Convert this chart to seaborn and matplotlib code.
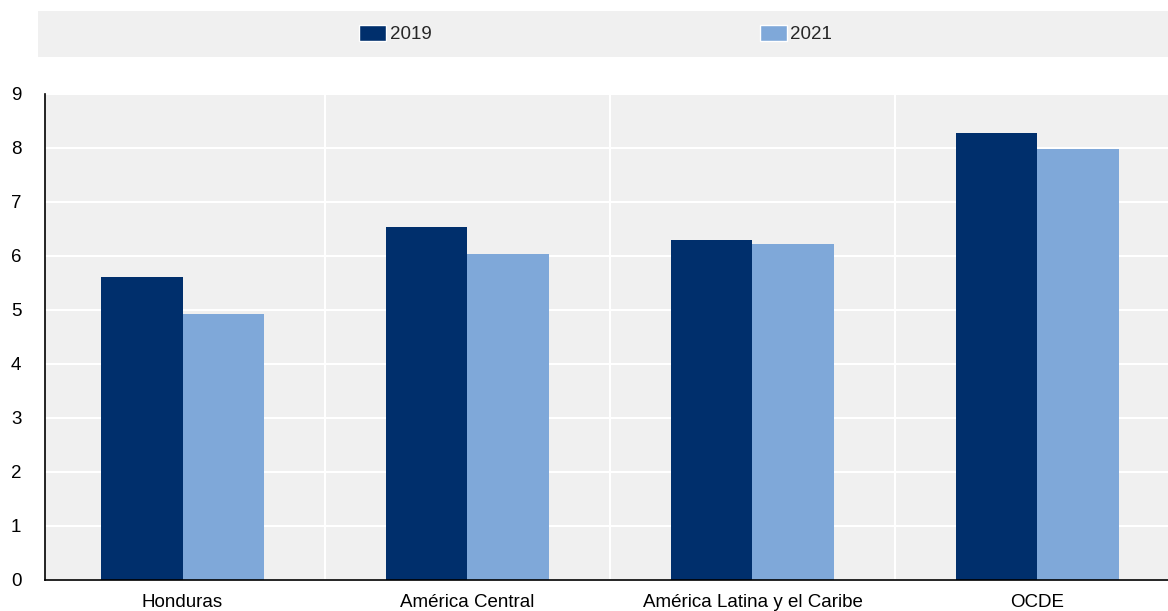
import matplotlib
matplotlib.use("Agg")
import matplotlib.pyplot as plt
import seaborn as sns
import pandas as pd
from matplotlib.patches import Rectangle, Patch

categories = ["Honduras", "América Central", "América Latina y el Caribe", "OCDE"]
years = ["2019", "2021"]
values_2019 = [5.62, 6.54, 6.29, 8.28]
values_2021 = [4.92, 6.04, 6.23, 7.98]
colors = ["#002F6C", "#7FA8D9"]

rows = []
for c, v in zip(categories, values_2019):
    rows.append({"cat": c, "year": "2019", "val": v})
for c, v in zip(categories, values_2021):
    rows.append({"cat": c, "year": "2021", "val": v})
df = pd.DataFrame(rows)

sns.set_style("white")
plt.rcParams['font.family'] = ['Liberation Sans Narrow', 'Liberation Sans', 'DejaVu Sans']
FS = 13.5

fig = plt.figure(figsize=(11.68, 6.11), dpi=100)
ax = fig.add_axes([45/1168, 31/611, 1 - 45/1168, (580-94)/611])
ax.set_facecolor("#F0F0F0")

sns.barplot(data=df, x="cat", y="val", hue="year", order=categories, hue_order=years,
            palette=colors, width=0.572, gap=0, ax=ax, legend=False, saturation=1,
            edgecolor="none", linewidth=0)

ax.set_xlim(-0.4825, 3.458)
ax.set_ylim(0, 9)
ax.set_yticks(range(0, 10))
ax.set_xticks([0.5, 1.5, 2.5], minor=True)
ax.grid(True, axis="y", color="white", linewidth=1.5)
ax.grid(True, axis="x", which="minor", color="white", linewidth=1.5)
ax.set_axisbelow(True)
ax.set_xlabel("")
ax.set_ylabel("")
for s in ["top", "right"]:
    ax.spines[s].set_visible(False)
for s in ["left", "bottom"]:
    ax.spines[s].set_color("black")
    ax.spines[s].set_linewidth(1.2)
ax.tick_params(axis="y", which="major", direction="in", length=5, color="black",
               labelsize=FS, pad=17, labelcolor="black")
ax.tick_params(axis="x", which="major", length=0, labelsize=FS, pad=10, labelcolor="black")
ax.tick_params(axis="x", which="minor", direction="in", length=5, color="black")

fig.patches.append(Rectangle((38/1168, 1 - 57/611), 1 - 38/1168, 46/611,
                             transform=fig.transFigure, facecolor="#F0F0F0",
                             edgecolor="none", zorder=0))
handles = [Patch(facecolor=colors[0], label="2019"), Patch(facecolor=colors[1], label="2021")]
fig.legend(handles=handles, ncol=2, loc="center", bbox_to_anchor=(595.5/1168, 1 - 34/611),
           frameon=False, fontsize=FS, handlelength=1.45, handleheight=0.95,
           handletextpad=0.2, columnspacing=17.5)

fig.savefig("out.png", dpi=100)
